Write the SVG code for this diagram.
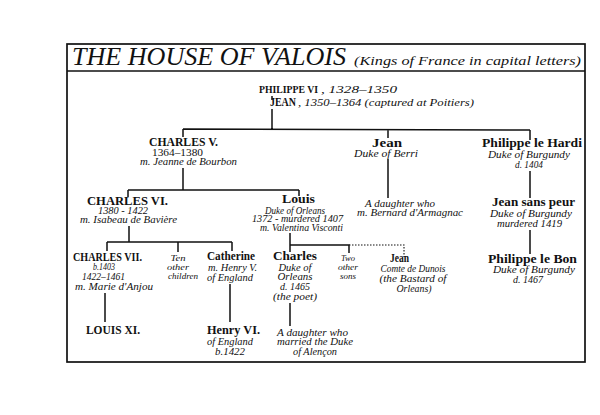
<svg xmlns="http://www.w3.org/2000/svg" width="600" height="415" viewBox="0 0 600 415">
<style>
text{font-family:"Liberation Serif","DejaVu Serif",serif;fill:#111}
.t{font-style:italic;font-size:26px}
.p{font-style:italic;font-size:12px}
.k{font-weight:bold;font-size:11.5px}
.n{font-size:12px;font-weight:bold}
.d{font-style:italic;font-size:9.5px}
.s{font-style:italic;font-size:8.5px}
.u{font-size:9.5px}
.m{text-anchor:middle}
.ln{stroke:#111;stroke-width:1.5;fill:none}
.dot{stroke:#111;stroke-width:1.1;stroke-dasharray:1.5 1.5;fill:none}
.fr{stroke:#111;stroke-width:1.7;fill:none}
</style>
<rect width="600" height="415" fill="#fff"/>
<g id="frame">
<rect class="fr" x="67" y="44" width="518" height="318"/>
<line class="fr" x1="67" y1="71" x2="585" y2="71"/>
<text class="t" x="72" y="65" textLength="274" lengthAdjust="spacingAndGlyphs">THE HOUSE OF VALOIS</text>
<text class="p" x="354" y="65" textLength="227" lengthAdjust="spacingAndGlyphs">(Kings of France in capital letters)</text>
</g>
<g id="connectors">
<path class="ln" d="M272 96V100M272 109V129M183 129L530 130M183 129V137M388 129.5V138M530 130V140M183 168V190M128 190H299M128 190V197M299 190V196M388 159V198M530 171V198M129 226V242M107 242H232M107 242V251M178 242V252M232 242V251M290 233V252M290 245H349V253M530 230V254M105 293V322M230 284V322M290 303V326"/>
<path class="dot" d="M349 245H404V257"/>
</g>
<g id="philippe-vi">
<text class="k" x="259" y="93" style="font-size:10px" textLength="59" lengthAdjust="spacingAndGlyphs">PHILIPPE VI</text>
<text class="d" x="321" y="93" textLength="76" lengthAdjust="spacingAndGlyphs">, 1328–1350</text>
</g>
<g id="jean-ii">
<text class="k" x="270" y="106" textLength="26" lengthAdjust="spacingAndGlyphs">JEAN</text>
<text class="d" x="298" y="106" textLength="176" lengthAdjust="spacingAndGlyphs">, 1350–1364 (captured at Poitiers)</text>
</g>
<g id="charles-v">
<text class="k" x="149" y="146" textLength="69" lengthAdjust="spacingAndGlyphs">CHARLES V.</text>
<text class="u" x="152" y="156" textLength="51" lengthAdjust="spacingAndGlyphs">1364–1380</text>
<text class="d" x="140" y="165" textLength="97" lengthAdjust="spacingAndGlyphs">m. Jeanne de Bourbon</text>
</g>
<g id="jean-berri">
<text class="n" x="372" y="147" textLength="30" lengthAdjust="spacingAndGlyphs">Jean</text>
<text class="d" x="354" y="157" textLength="64" lengthAdjust="spacingAndGlyphs">Duke of Berri</text>
</g>
<g id="philippe-le-hardi">
<text class="n" x="482" y="147" textLength="100" lengthAdjust="spacingAndGlyphs">Philippe le Hardi</text>
<text class="d" x="488" y="158" textLength="82" lengthAdjust="spacingAndGlyphs">Duke of Burgundy</text>
<text class="d" x="515" y="168" textLength="28" lengthAdjust="spacingAndGlyphs">d. 1404</text>
</g>
<g id="charles-vi">
<text class="k" x="87" y="205" textLength="81" lengthAdjust="spacingAndGlyphs">CHARLES VI.</text>
<text class="d" x="98" y="214" textLength="50" lengthAdjust="spacingAndGlyphs">1380 - 1422</text>
<text class="d" x="80" y="223" textLength="97" lengthAdjust="spacingAndGlyphs">m. Isabeau de Bavière</text>
</g>
<g id="louis-orleans">
<text class="n" x="282" y="203" textLength="33" lengthAdjust="spacingAndGlyphs">Louis</text>
<text class="d" x="265" y="213.5" textLength="60" lengthAdjust="spacingAndGlyphs">Duke of Orleans</text>
<text class="d" x="252" y="222" textLength="91" lengthAdjust="spacingAndGlyphs">1372 - murdered 1407</text>
<text class="d" x="260" y="231" textLength="83" lengthAdjust="spacingAndGlyphs">m. Valentina Visconti</text>
</g>
<g id="daughter-armagnac">
<text class="d" x="365" y="207" textLength="70" lengthAdjust="spacingAndGlyphs">A daughter who</text>
<text class="d" x="357" y="216" textLength="106" lengthAdjust="spacingAndGlyphs">m. Bernard d'Armagnac</text>
</g>
<g id="jean-sans-peur">
<text class="n" x="492" y="206" textLength="83" lengthAdjust="spacingAndGlyphs">Jean sans peur</text>
<text class="d" x="490" y="217" textLength="82" lengthAdjust="spacingAndGlyphs">Duke of Burgundy</text>
<text class="d" x="497" y="227" textLength="65" lengthAdjust="spacingAndGlyphs">murdered 1419</text>
</g>
<g id="charles-vii">
<text class="k" x="73" y="261" textLength="69" lengthAdjust="spacingAndGlyphs">CHARLES VII.</text>
<text class="d" x="93" y="270" textLength="22" lengthAdjust="spacingAndGlyphs">b.1403</text>
<text class="d" x="82" y="280" textLength="43" lengthAdjust="spacingAndGlyphs">1422–1461</text>
<text class="d" x="75" y="290" textLength="78" lengthAdjust="spacingAndGlyphs">m. Marie d'Anjou</text>
</g>
<g id="ten-other-children">
<text class="s m" x="178" y="261" textLength="15" lengthAdjust="spacingAndGlyphs">Ten</text>
<text class="s m" x="178" y="270" textLength="22" lengthAdjust="spacingAndGlyphs">other</text>
<text class="s m" x="183" y="279" textLength="30" lengthAdjust="spacingAndGlyphs">children</text>
</g>
<g id="catherine">
<text class="n" x="207" y="260" textLength="48" lengthAdjust="spacingAndGlyphs">Catherine</text>
<text class="d" x="208" y="271" textLength="49" lengthAdjust="spacingAndGlyphs">m. Henry V.</text>
<text class="d" x="207" y="281" textLength="46" lengthAdjust="spacingAndGlyphs">of England</text>
</g>
<g id="charles-poet">
<text class="n m" x="295" y="260" textLength="44" lengthAdjust="spacingAndGlyphs">Charles</text>
<text class="d m" x="295" y="271" textLength="33" lengthAdjust="spacingAndGlyphs">Duke of</text>
<text class="d m" x="295" y="280" textLength="35" lengthAdjust="spacingAndGlyphs">Orleans</text>
<text class="d m" x="295" y="290" textLength="30" lengthAdjust="spacingAndGlyphs">d. 1465</text>
<text class="d m" x="295" y="300" textLength="44" lengthAdjust="spacingAndGlyphs">(the poet)</text>
</g>
<g id="two-other-sons">
<text class="s m" x="348" y="261" textLength="14" lengthAdjust="spacingAndGlyphs">Two</text>
<text class="s m" x="348" y="270" textLength="20" lengthAdjust="spacingAndGlyphs">other</text>
<text class="s m" x="348" y="279" textLength="16" lengthAdjust="spacingAndGlyphs">sons</text>
</g>
<g id="jean-dunois">
<text class="n" x="390" y="262" textLength="19" lengthAdjust="spacingAndGlyphs">Jean</text>
<text class="d m" x="413" y="272" textLength="65" lengthAdjust="spacingAndGlyphs">Comte de Dunois</text>
<text class="d m" x="413" y="282" textLength="67" lengthAdjust="spacingAndGlyphs">(the Bastard of</text>
<text class="d m" x="414" y="292" textLength="35" lengthAdjust="spacingAndGlyphs">Orleans)</text>
</g>
<g id="philippe-le-bon">
<text class="n" x="488" y="263" textLength="89" lengthAdjust="spacingAndGlyphs">Philippe le Bon</text>
<text class="d" x="493" y="273" textLength="82" lengthAdjust="spacingAndGlyphs">Duke of Burgundy</text>
<text class="d" x="513" y="283" textLength="30" lengthAdjust="spacingAndGlyphs">d. 1467</text>
</g>
<g id="louis-xi">
<text class="k" x="86" y="334" textLength="54" lengthAdjust="spacingAndGlyphs">LOUIS XI.</text>
</g>
<g id="henry-vi">
<text class="n" x="207" y="334" textLength="53" lengthAdjust="spacingAndGlyphs">Henry VI.</text>
<text class="d" x="207" y="345" textLength="46" lengthAdjust="spacingAndGlyphs">of England</text>
<text class="d" x="215" y="355" textLength="30" lengthAdjust="spacingAndGlyphs">b.1422</text>
</g>
<g id="daughter-alencon">
<text class="d" x="277" y="336" textLength="71" lengthAdjust="spacingAndGlyphs">A daughter who</text>
<text class="d" x="277" y="345" textLength="76" lengthAdjust="spacingAndGlyphs">married the Duke</text>
<text class="d" x="293" y="355" textLength="44" lengthAdjust="spacingAndGlyphs">of Alençon</text>
</g>
</svg>
